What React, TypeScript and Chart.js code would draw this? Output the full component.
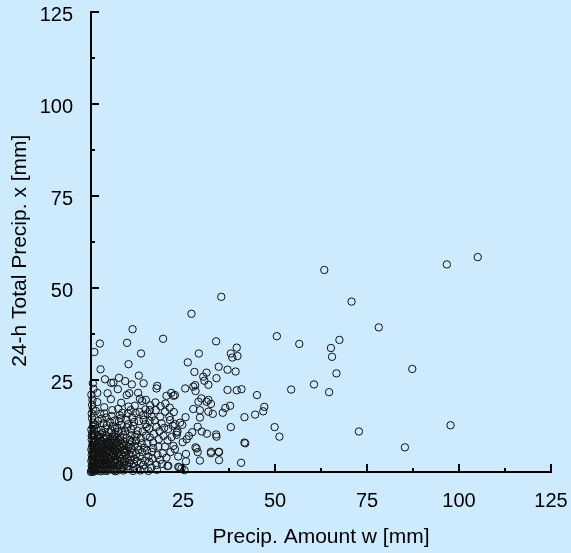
import React, { useEffect, useRef } from "react";
import { Chart, registerables } from "chart.js";

Chart.register(...registerables);

const BG = "#cdebfd";
const FONT = "'Liberation Sans', Arial, Helvetica, sans-serif";

const xTitle = "Precip. Amount w [mm]";
const yTitle = "24-h Total Precip. x [mm]";
const axisMin = 0;
const axisMax = 125;
const axisStep = 25;
const majorTicks = [25, 50, 75, 100, 125];
const minorTicks = [12.5, 37.5, 62.5, 87.5, 112.5];

// [precip amount w, 24-h total precip x]
const sparsePoints: [number, number][] = [
  [63.4, 54.9], [96.7, 56.4], [105.1, 58.4], [70.8, 46.3], [78.2, 39.3], [50.5, 36.9],
  [56.6, 34.8], [67.5, 35.9], [65.2, 33.7], [65.5, 31.3], [66.7, 26.8], [87.3, 28.0],
  [45.1, 20.9], [54.4, 22.4], [60.6, 23.8], [64.7, 21.7], [47.1, 17.7], [46.8, 16.5],
  [44.6, 15.6], [49.9, 12.2], [51.2, 9.6], [72.8, 11.0], [97.7, 12.7], [85.3, 6.7],
  [40.8, 2.5], [41.7, 8.0], [34.8, 5.4], [34.8, 3.2], [32.6, 5.1], [29.6, 3.1],
  [28.7, 6.4], [25.8, 4.9], [25.8, 2.9], [25.4, 0.5], [24.0, 1.3], [20.8, 1.6],
  [35.4, 47.6], [27.3, 43.0], [11.3, 38.8], [19.6, 36.2], [34.0, 35.5],
];

const midPoints: [number, number][] = [
  [2.4, 34.9], [9.8, 35.1], [0.9, 32.6], [13.6, 32.2], [10.2, 29.3], [2.6, 27.9],
  [13.0, 26.2], [3.8, 25.2], [7.6, 25.6], [9.3, 24.7], [0.5, 24.1], [5.5, 24.2],
  [11.1, 23.8], [14.3, 24.1], [18.0, 23.4], [17.8, 22.7], [1.7, 21.5], [4.5, 21.4],
  [7.3, 22.5], [9.7, 20.9], [10.4, 21.4], [12.8, 21.5], [21.8, 21.5], [20.5, 20.7],
  [22.4, 20.7], [29.3, 32.2], [39.6, 33.8], [38.0, 32.2], [38.4, 31.1], [39.8, 31.5],
  [26.3, 29.8], [34.7, 28.6], [37.1, 27.8], [39.3, 27.3], [28.1, 27.2], [31.4, 27.0],
  [30.5, 25.9], [30.8, 24.8], [34.1, 25.5], [31.9, 23.7], [28.3, 23.6], [28.4, 22.0],
  [37.1, 22.3], [39.6, 22.2], [40.9, 22.5], [30.0, 20.0], [31.9, 19.6], [22.8, 20.9],
  [29.2, 19.1], [31.4, 19.1], [32.6, 18.5], [27.8, 17.1], [29.6, 16.8], [31.9, 16.4],
  [33.1, 15.8], [35.8, 16.1], [36.5, 17.4], [37.8, 18.0], [41.7, 14.9], [38.0, 12.2],
  [25.7, 14.9], [29.6, 14.8], [24.2, 13.4], [24.8, 12.8], [22.8, 13.0], [29.0, 12.3],
  [27.5, 10.8], [30.1, 11.0], [31.5, 10.4], [26.6, 9.8], [26.0, 8.9], [24.9, 8.1],
  [23.5, 11.0], [23.3, 10.1], [34.0, 10.2], [34.1, 9.6], [41.9, 7.8], [28.4, 6.7],
  [29.0, 5.4], [32.6, 5.5], [34.7, 5.5], [23.7, 1.4], [22.8, 6.2], [25.6, 22.7],
  [27.8, 23.2], [6.1, 24.3],
  [5.4, 19.8], [8.2, 18.8], [13.9, 19.3], [14.9, 19.6], [0.3, 18.2], [2.5, 15.8],
  [3.6, 15.9], [7.4, 17.2], [10.8, 16.8], [13.3, 19.9], [14.8, 17.0], [16.0, 16.8],
  [17.6, 16.8], [20.1, 16.4], [21.3, 15.0], [18.8, 15.0], [16.5, 15.0], [14.2, 15.5],
  [1.1, 12.7], [4.3, 12.7], [6.5, 11.8], [8.3, 12.8], [10.1, 13.0], [11.5, 12.5],
  [12.7, 11.2], [14.8, 13.0], [15.8, 11.8], [17.8, 12.3], [19.2, 13.2], [21.5, 14.1],
  [23.3, 10.7], [0.2, 9.8], [2.0, 9.6], [4.3, 9.4], [6.5, 9.6], [8.8, 10.1],
  [10.6, 8.7], [12.2, 8.5], [13.8, 7.8], [15.3, 7.8], [16.9, 8.0], [18.3, 6.9],
  [20.1, 6.9], [22.4, 7.1], [23.7, 4.2], [21.0, 1.7], [17.8, 1.9], [14.2, 1.9],
  [11.5, 1.4], [7.9, 1.0], [6.1, 0.5], [24.6, 1.0], [15.6, 4.2], [18.8, 3.3],
  [13.3, 4.2], [9.7, 3.7], [16.5, 5.5], [12.9, 6.0], [9.2, 6.0], [6.5, 6.0],
];

const corePoints: [number, number][] = [
  [0.1, 0.3], [0.3, 0.9], [0.2, 1.6], [0.5, 2.2], [0.1, 3.0], [0.4, 3.8], [0.2, 4.6],
  [0.6, 5.3], [0.1, 6.1], [0.3, 7.0], [0.5, 7.9], [0.2, 8.8], [0.4, 10.6], [0.1, 11.5],
  [0.6, 13.4], [0.3, 14.6], [0.2, 15.9], [0.5, 17.0], [0.4, 19.6], [0.1, 21.0], [0.7, 22.6],
  [1.0, 0.2], [1.2, 1.1], [1.5, 2.0], [1.1, 2.9], [1.4, 3.7], [1.0, 4.9], [1.3, 6.0],
  [1.6, 6.8], [1.2, 8.1], [1.8, 9.0], [1.0, 10.3], [1.5, 11.6], [1.9, 13.9], [1.3, 16.6],
  [1.7, 19.0],
  [2.1, 0.4], [2.4, 1.3], [2.8, 2.3], [2.2, 3.2], [2.6, 4.1], [3.0, 5.0], [2.3, 5.9],
  [2.9, 6.7], [3.3, 7.6], [2.5, 8.4], [3.1, 10.6], [2.7, 11.4], [3.4, 13.2], [2.9, 14.5],
  [3.6, 17.6], [3.2, 0.9], [3.5, 1.8], [3.8, 2.7], [3.3, 3.6], [3.9, 4.5], [3.6, 5.7],
  [4.0, 6.4], [3.7, 8.8], [4.1, 9.9], [3.9, 11.8], [4.2, 14.8],
  [4.3, 0.3], [4.6, 1.2], [4.4, 2.1], [4.9, 3.1], [4.5, 4.0], [5.0, 4.9], [4.7, 5.8],
  [5.2, 7.0], [4.8, 7.8], [5.3, 8.7], [4.9, 10.8], [5.5, 11.3], [5.1, 13.6], [5.6, 15.2],
  [5.8, 16.8], [5.4, 0.9], [5.7, 2.0], [5.9, 2.9], [5.6, 3.9], [6.0, 5.2], [5.8, 6.3],
  [6.2, 7.4], [6.0, 9.0], [6.3, 10.3], [5.9, 12.5], [6.4, 14.0],
  [6.6, 0.2], [6.9, 1.5], [6.5, 2.6], [7.1, 3.3], [6.8, 4.3], [7.3, 5.3], [6.7, 6.9],
  [7.2, 8.1], [7.0, 9.4], [7.5, 10.9], [7.1, 12.0], [7.6, 13.8], [7.8, 15.4], [7.4, 0.7],
  [7.9, 2.2], [8.1, 3.0], [7.7, 4.0], [8.2, 4.8], [7.9, 6.6], [8.3, 7.7], [8.0, 8.9],
  [8.4, 11.2], [8.1, 14.6], [8.5, 16.1],
  [8.8, 0.4], [9.1, 1.7], [8.9, 2.6], [9.4, 4.6], [9.0, 5.3], [9.5, 7.2], [9.2, 8.2],
  [9.7, 9.3], [9.3, 11.0], [9.8, 12.1], [9.6, 14.2], [10.0, 15.9], [10.2, 17.8], [10.1, 0.9],
  [10.4, 2.4], [10.7, 3.2], [10.3, 4.9], [10.8, 6.4], [10.5, 7.5], [11.0, 10.0], [10.9, 11.6],
  [11.2, 14.8], [11.4, 0.3], [11.6, 2.3], [11.9, 3.5], [11.3, 5.2], [11.8, 7.1], [12.0, 9.6],
  [11.7, 13.6], [12.1, 16.0], [11.9, 18.0],
  [12.4, 0.8], [12.6, 2.9], [12.3, 4.8], [12.8, 7.0], [12.5, 10.2], [13.0, 13.8], [13.2, 16.3],
  [13.4, 0.4], [13.6, 2.5], [13.9, 5.4], [13.5, 9.2], [14.0, 11.0], [14.3, 14.2], [14.5, 0.9],
  [14.7, 3.1], [14.4, 6.6], [14.9, 9.9], [15.1, 12.2], [15.4, 15.9], [15.6, 0.3], [15.8, 2.8],
  [15.2, 5.8], [16.0, 9.4], [15.9, 13.9], [16.1, 18.1],
  [16.4, 1.2], [16.7, 3.7], [16.9, 6.5], [17.1, 10.3], [17.3, 14.0], [17.5, 18.9], [17.9, 0.6],
  [18.1, 4.6], [18.4, 8.9], [18.6, 11.1], [18.9, 17.9], [19.3, 2.2], [19.5, 5.1], [19.7, 9.8],
  [19.9, 12.0], [20.2, 18.6], [20.5, 3.9], [20.8, 8.6], [21.0, 11.7], [21.4, 17.5], [21.6, 5.4],
  [21.9, 9.5], [22.2, 12.6], [22.5, 16.3],
];

const originPoints: [number, number][] = [
  [0.0, 0.0], [0.2, 0.5], [0.6, 0.1], [0.8, 0.7], [0.4, 1.3], [0.9, 1.6], [0.7, 2.6],
  [0.3, 3.4], [0.8, 3.2], [0.6, 4.2], [0.9, 4.5], [0.4, 5.7], [0.8, 6.4], [0.5, 7.4],
  [0.9, 8.4], [0.7, 9.3], [0.3, 10.0], [0.8, 11.2], [0.5, 12.3], [1.1, 12.9],
  [1.4, 0.5], [1.7, 1.4], [1.9, 2.5], [1.6, 3.3], [1.8, 4.2], [1.5, 5.1], [1.9, 5.6],
  [1.7, 7.4], [1.4, 8.6], [1.9, 10.1], [2.0, 0.9], [2.3, 1.8], [2.0, 2.8], [2.4, 3.7],
  [2.1, 4.6], [2.6, 5.3], [2.2, 6.6], [2.7, 7.3], [2.1, 7.9], [2.4, 9.2], [2.6, 10.2],
  [2.7, 0.2], [2.9, 1.0], [3.1, 1.9], [3.4, 2.5], [3.0, 3.0], [3.2, 4.2], [3.5, 4.9],
  [3.1, 6.1], [3.5, 6.8], [3.0, 8.2], [3.4, 9.2], [3.8, 0.4], [4.0, 1.4], [4.2, 2.4],
  [3.9, 3.4], [4.3, 3.9], [4.1, 5.2], [4.4, 6.0], [4.2, 7.1], [4.5, 8.3], [4.0, 8.0],
  [4.8, 0.7], [5.1, 1.7], [5.3, 2.6], [5.0, 3.6], [5.4, 4.4], [5.2, 5.5], [5.5, 6.6],
  [5.0, 7.3], [5.6, 8.0], [5.7, 9.6], [6.3, 0.8], [6.1, 1.8], [6.4, 3.4], [6.2, 4.6],
  [6.6, 5.6], [6.3, 6.5], [6.8, 7.8], [6.5, 8.6], [7.0, 0.4], [7.5, 1.8], [7.3, 2.8],
  [7.6, 4.6], [7.4, 6.1], [7.8, 7.2], [7.5, 8.6], [8.6, 1.2], [8.5, 3.6], [8.7, 6.0],
  [8.9, 7.0], [9.3, 2.9], [9.8, 5.8], [10.0, 1.6], [10.2, 6.9], [10.9, 4.2], [11.1, 8.3],
];

const innerTicksPlugin = {
  id: "innerTicks",
  afterDraw(chart: any) {
    const { ctx, chartArea, scales } = chart;
    const xs = scales.x;
    const ys = scales.y;
    ctx.save();
    ctx.strokeStyle = "#000";
    ctx.lineWidth = 2;
    const draw = (vals: number[], len: number) => {
      vals.forEach((v) => {
        const px = xs.getPixelForValue(v);
        ctx.beginPath();
        ctx.moveTo(px, chartArea.bottom);
        ctx.lineTo(px, chartArea.bottom - len);
        ctx.stroke();
        const py = ys.getPixelForValue(v);
        ctx.beginPath();
        ctx.moveTo(chartArea.left, py);
        ctx.lineTo(chartArea.left + len, py);
        ctx.stroke();
      });
    };
    draw(majorTicks, 8);
    draw(minorTicks, 4);
    ctx.restore();
  },
};

export default function App() {
  const ref = useRef<HTMLCanvasElement | null>(null);

  useEffect(() => {
    document.body.style.margin = "0";
    document.body.style.background = BG;
    const canvas = ref.current;
    if (!canvas) return;
    const pts = [...originPoints, ...corePoints, ...midPoints, ...sparsePoints].map(([x, y]) => ({ x, y }));
    const tickFont = { size: 20, family: FONT };
    const titleFont = { size: 21, family: FONT };
    const hiddenGrid = (len: number) => ({
      display: true,
      drawOnChartArea: false,
      drawTicks: true,
      tickLength: len,
      color: "rgba(0,0,0,0)",
    });
    const chart = new Chart(canvas, {
      type: "scatter",
      data: {
        datasets: [
          {
            data: pts,
            pointStyle: "circle",
            pointRadius: 3.7,
            pointBorderWidth: 1,
            borderColor: "#111",
            backgroundColor: "rgba(0,0,0,0)",
            clip: false as any,
          },
        ],
      },
      options: {
        animation: false,
        responsive: false,
        events: [],
        layout: { padding: { top: 12, right: 20, left: 0, bottom: 0 } },
        plugins: { legend: { display: false }, tooltip: { enabled: false } },
        scales: {
          x: {
            type: "linear",
            min: axisMin,
            max: axisMax,
            grid: hiddenGrid(17),
            border: { display: true, color: "#000", width: 2 },
            ticks: { stepSize: axisStep, color: "#000", font: tickFont, padding: 0, maxRotation: 0 },
            title: { display: true, text: xTitle, color: "#000", font: titleFont, padding: { top: 0, bottom: 3 } },
            afterFit: (s: any) => {
              s.height = 81;
            },
          },
          y: {
            type: "linear",
            min: axisMin,
            max: axisMax,
            grid: hiddenGrid(18),
            border: { display: true, color: "#000", width: 2 },
            ticks: { stepSize: axisStep, color: "#000", font: tickFont, padding: 0, labelOffset: 3 },
            title: { display: true, text: yTitle + "   ", color: "#000", font: titleFont, padding: { top: 8, bottom: 0 } },
            afterFit: (s: any) => {
              s.width = 91;
            },
          },
        },
      },
      plugins: [innerTicksPlugin],
    } as any);
    return () => chart.destroy();
  }, []);

  return (
    <div style={{ width: 571, height: 553, background: BG }}>
      <canvas ref={ref} width={571} height={553} style={{ display: "block", background: BG }} />
    </div>
  );
}
